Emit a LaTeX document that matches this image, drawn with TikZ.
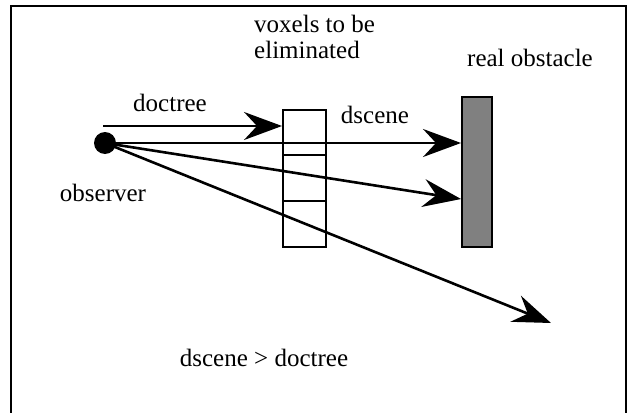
\documentclass[tikz,border=0pt]{standalone}
\usepackage{fontspec}
\setmainfont{Liberation Serif}
\usetikzlibrary{arrows.meta}
\begin{document}
\begin{tikzpicture}[x=1pt,y=-1pt,
  every node/.style={font=\fontsize{25}{26.5}\selectfont, inner sep=0pt},
  ray/.style={line width=2.6pt, -{Stealth[length=38pt,width=28pt,inset=13pt]}},
  cell/.style={draw, line width=2.6pt, minimum width=43pt, inner sep=0pt},
  frameline/.style={line width=2.8pt}]
\useasboundingbox (0,0) rectangle (631,412);
\draw[frameline] (11,420) -- (11,6) -- (626,6) -- (626,420);
% voxel column
\node[cell, minimum height=45pt] (v1) at (304.5,132.5) {};
\node[cell, minimum height=46pt] (v2) at (304.5,178) {};
\node[cell, minimum height=46pt] (v3) at (304.5,224) {};
% obstacle
\node[draw, line width=2.6pt, fill={rgb,255:red,128;green,128;blue,128}, minimum width=30pt, minimum height=150pt] (obst) at (477,172) {};
% observer
\node[circle, fill=black, minimum size=22pt] (obs) at (105,143) {};
% coordinates
\coordinate (ds) at (103,126);
\coordinate (dt) at (282,126);
\coordinate (t2) at (461,143);
\coordinate (t3) at (461,199);
\coordinate (t4) at (551,323);
\draw[ray] (ds) -- (dt);
\draw[ray] (obs.center) -- (t2);
\draw[ray] (obs.center) -- (t3);
\draw[ray] (obs.center) -- (t4);
% labels
\node (ldoctree) at (170,103) {doctree};
\node (ldscene) at (375,115) {dscene};
\node (lobs) at (103,193) {observer};
\node[anchor=west, align=left] (lvox) at (254,37) {voxels to be\\eliminated};
\node (lreal) at (530,58) {real obstacle};
\node (lcmp) at (264,358) {dscene > doctree};
\end{tikzpicture}
\end{document}
